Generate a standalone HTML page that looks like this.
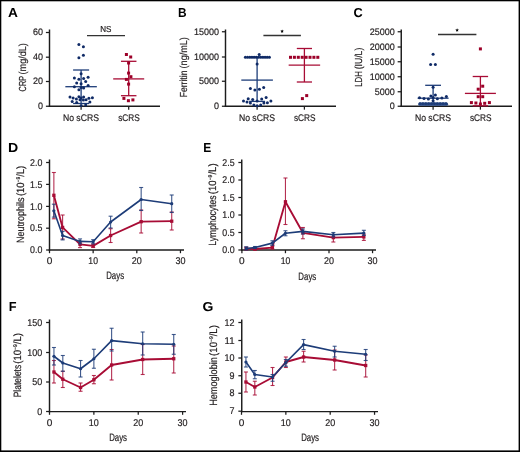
<!DOCTYPE html>
<html><head><meta charset="utf-8"><style>
html,body{margin:0;padding:0;background:#fff;}
svg{display:block;will-change:transform;text-rendering:geometricPrecision;font-family:"Liberation Sans",sans-serif;}
</style></head><body>
<svg width="520" height="452" viewBox="0 0 520 452">
<rect x="0" y="0" width="520" height="452" fill="#fff"/>
<rect x="0" y="0" width="520" height="1.3" fill="#000"/>
<rect x="0" y="0" width="1.3" height="452" fill="#000"/>
<rect x="518.6" y="0" width="1.4" height="452" fill="#000"/>
<rect x="0" y="450.4" width="520" height="1.6" fill="#000"/>
<text x="7.9" y="17.3" font-size="13" fill="#000" text-anchor="start" font-weight="bold" textLength="9.9" lengthAdjust="spacingAndGlyphs">A</text>
<text x="177.9" y="17.4" font-size="13" fill="#000" text-anchor="start" font-weight="bold" textLength="8.6" lengthAdjust="spacingAndGlyphs">B</text>
<text x="353.6" y="17.2" font-size="13" fill="#000" text-anchor="start" font-weight="bold" textLength="9.2" lengthAdjust="spacingAndGlyphs">C</text>
<text x="8.1" y="152" font-size="13" fill="#000" text-anchor="start" font-weight="bold" textLength="10.2" lengthAdjust="spacingAndGlyphs">D</text>
<text x="203.3" y="152" font-size="13" fill="#000" text-anchor="start" font-weight="bold" textLength="8.0" lengthAdjust="spacingAndGlyphs">E</text>
<text x="8.7" y="311.25" font-size="13" fill="#000" text-anchor="start" font-weight="bold" textLength="7.8" lengthAdjust="spacingAndGlyphs">F</text>
<text x="202.5" y="310.9" font-size="13" fill="#000" text-anchor="start" font-weight="bold" textLength="10.9" lengthAdjust="spacingAndGlyphs">G</text>
<line x1="49.5" y1="29.5" x2="49.5" y2="106.95" stroke="#1c1c1c" stroke-width="1.45"/>
<line x1="48.8" y1="106.25" x2="160" y2="106.25" stroke="#1c1c1c" stroke-width="1.45"/>
<line x1="45.9" y1="106.25" x2="49.5" y2="106.25" stroke="#1c1c1c" stroke-width="1.25"/>
<text x="42.9" y="109.0" font-size="9.4" fill="#231f20" text-anchor="end" stroke="#231f20" stroke-width="0.2" textLength="5" lengthAdjust="spacingAndGlyphs">0</text>
<line x1="45.9" y1="81.5" x2="49.5" y2="81.5" stroke="#1c1c1c" stroke-width="1.25"/>
<text x="42.9" y="84.25" font-size="9.4" fill="#231f20" text-anchor="end" stroke="#231f20" stroke-width="0.2" textLength="10" lengthAdjust="spacingAndGlyphs">20</text>
<line x1="45.9" y1="57.2" x2="49.5" y2="57.2" stroke="#1c1c1c" stroke-width="1.25"/>
<text x="42.9" y="59.95" font-size="9.4" fill="#231f20" text-anchor="end" stroke="#231f20" stroke-width="0.2" textLength="10" lengthAdjust="spacingAndGlyphs">40</text>
<line x1="45.9" y1="32.5" x2="49.5" y2="32.5" stroke="#1c1c1c" stroke-width="1.25"/>
<text x="42.9" y="35.25" font-size="9.4" fill="#231f20" text-anchor="end" stroke="#231f20" stroke-width="0.2" textLength="10" lengthAdjust="spacingAndGlyphs">60</text>
<line x1="81.1" y1="106.25" x2="81.1" y2="109.65" stroke="#1c1c1c" stroke-width="1.25"/>
<line x1="128.7" y1="106.25" x2="128.7" y2="109.65" stroke="#1c1c1c" stroke-width="1.25"/>
<text x="80.89999999999999" y="121.0" font-size="9.6" fill="#231f20" text-anchor="middle" stroke="#231f20" stroke-width="0.2" textLength="36" lengthAdjust="spacingAndGlyphs">No sCRS</text>
<text x="129.0" y="121.0" font-size="9.6" fill="#231f20" text-anchor="middle" stroke="#231f20" stroke-width="0.2" textLength="21.6" lengthAdjust="spacingAndGlyphs">sCRS</text>
<text transform="translate(25.9,91.4) rotate(-90)" x="0" y="0" font-size="10.2" fill="#231f20" text-anchor="start" stroke="#231f20" stroke-width="0.2" textLength="15.500000000000004" lengthAdjust="spacingAndGlyphs">CRP</text>
<text transform="translate(25.9,74.4) rotate(-90)" x="0" y="0" font-size="10.2" fill="#231f20" text-anchor="start" stroke="#231f20" stroke-width="0.2" textLength="31.3" lengthAdjust="spacingAndGlyphs">(mg/dL)</text>
<line x1="87" y1="35.7" x2="125" y2="35.7" stroke="#333" stroke-width="1.3"/>
<text x="105.8" y="31.9" font-size="8.6" fill="#231f20" text-anchor="middle" stroke="#231f20" stroke-width="0.2" textLength="11.2" lengthAdjust="spacingAndGlyphs">NS</text>
<line x1="81.1" y1="70" x2="81.1" y2="103.5" stroke="#1d3c78" stroke-width="1.3"/>
<line x1="73.1" y1="70" x2="89.1" y2="70" stroke="#1d3c78" stroke-width="1.3"/>
<line x1="73.1" y1="103.5" x2="89.1" y2="103.5" stroke="#1d3c78" stroke-width="1.3"/>
<line x1="65.35" y1="86.7" x2="96.85" y2="86.7" stroke="#1d3c78" stroke-width="1.3"/>
<circle cx="78.9" cy="44.5" r="1.5" fill="#0f2a66"/>
<circle cx="83.4" cy="46.7" r="1.5" fill="#0f2a66"/>
<circle cx="83.4" cy="55.2" r="1.5" fill="#0f2a66"/>
<circle cx="78.9" cy="57.7" r="1.5" fill="#0f2a66"/>
<circle cx="81.1" cy="73.8" r="1.5" fill="#0f2a66"/>
<circle cx="74.4" cy="78" r="1.5" fill="#0f2a66"/>
<circle cx="78.9" cy="79.2" r="1.5" fill="#0f2a66"/>
<circle cx="83.6" cy="78.5" r="1.5" fill="#0f2a66"/>
<circle cx="88.1" cy="77.2" r="1.5" fill="#0f2a66"/>
<circle cx="76.7" cy="83" r="1.5" fill="#0f2a66"/>
<circle cx="85.7" cy="81.5" r="1.5" fill="#0f2a66"/>
<circle cx="81.1" cy="83.7" r="1.5" fill="#0f2a66"/>
<circle cx="74.4" cy="86.7" r="1.5" fill="#0f2a66"/>
<circle cx="88.1" cy="85.4" r="1.5" fill="#0f2a66"/>
<circle cx="81.1" cy="87.4" r="1.5" fill="#0f2a66"/>
<circle cx="83.6" cy="88.1" r="1.5" fill="#0f2a66"/>
<circle cx="78.9" cy="89.7" r="1.5" fill="#0f2a66"/>
<circle cx="70" cy="96.9" r="1.5" fill="#0f2a66"/>
<circle cx="73.1" cy="97.9" r="1.5" fill="#0f2a66"/>
<circle cx="76.4" cy="98.9" r="1.5" fill="#0f2a66"/>
<circle cx="78.9" cy="96.7" r="1.5" fill="#0f2a66"/>
<circle cx="81.1" cy="97.9" r="1.5" fill="#0f2a66"/>
<circle cx="83.6" cy="96.9" r="1.5" fill="#0f2a66"/>
<circle cx="80" cy="99.7" r="1.5" fill="#0f2a66"/>
<circle cx="83.4" cy="99.9" r="1.5" fill="#0f2a66"/>
<circle cx="86.1" cy="99.7" r="1.5" fill="#0f2a66"/>
<circle cx="88.9" cy="98.2" r="1.5" fill="#0f2a66"/>
<circle cx="92.4" cy="97.7" r="1.5" fill="#0f2a66"/>
<circle cx="72.2" cy="101.4" r="1.5" fill="#0f2a66"/>
<circle cx="76.7" cy="102.4" r="1.5" fill="#0f2a66"/>
<circle cx="89.9" cy="101.9" r="1.5" fill="#0f2a66"/>
<circle cx="81.1" cy="105.4" r="1.5" fill="#0f2a66"/>
<circle cx="85.7" cy="105.1" r="1.5" fill="#0f2a66"/>
<line x1="128.7" y1="61.3" x2="128.7" y2="95.7" stroke="#a80c35" stroke-width="1.3"/>
<line x1="120.94999999999999" y1="61.3" x2="136.45" y2="61.3" stroke="#a80c35" stroke-width="1.3"/>
<line x1="120.94999999999999" y1="95.7" x2="136.45" y2="95.7" stroke="#a80c35" stroke-width="1.3"/>
<line x1="113.19999999999999" y1="78.9" x2="144.2" y2="78.9" stroke="#a80c35" stroke-width="1.3"/>
<rect x="124.90" y="53.00" width="3.0" height="3.0" fill="#9c0028"/>
<rect x="129.20" y="55.50" width="3.0" height="3.0" fill="#9c0028"/>
<rect x="127.10" y="61.50" width="3.0" height="3.0" fill="#9c0028"/>
<rect x="127.10" y="71.60" width="3.0" height="3.0" fill="#9c0028"/>
<rect x="129.40" y="75.20" width="3.0" height="3.0" fill="#9c0028"/>
<rect x="124.90" y="77.90" width="3.0" height="3.0" fill="#9c0028"/>
<rect x="127.10" y="82.60" width="3.0" height="3.0" fill="#9c0028"/>
<rect x="122.40" y="96.90" width="3.0" height="3.0" fill="#9c0028"/>
<rect x="126.90" y="99.20" width="3.0" height="3.0" fill="#9c0028"/>
<rect x="131.40" y="98.40" width="3.0" height="3.0" fill="#9c0028"/>
<line x1="225.5" y1="29.5" x2="225.5" y2="106.95" stroke="#1c1c1c" stroke-width="1.45"/>
<line x1="224.8" y1="106.25" x2="336" y2="106.25" stroke="#1c1c1c" stroke-width="1.45"/>
<line x1="221.9" y1="106.25" x2="225.5" y2="106.25" stroke="#1c1c1c" stroke-width="1.25"/>
<text x="218.9" y="109.0" font-size="9.4" fill="#231f20" text-anchor="end" stroke="#231f20" stroke-width="0.2" textLength="5" lengthAdjust="spacingAndGlyphs">0</text>
<line x1="221.9" y1="81.25" x2="225.5" y2="81.25" stroke="#1c1c1c" stroke-width="1.25"/>
<text x="218.9" y="84.0" font-size="9.4" fill="#231f20" text-anchor="end" stroke="#231f20" stroke-width="0.2" textLength="20" lengthAdjust="spacingAndGlyphs">5000</text>
<line x1="221.9" y1="57" x2="225.5" y2="57" stroke="#1c1c1c" stroke-width="1.25"/>
<text x="218.9" y="59.75" font-size="9.4" fill="#231f20" text-anchor="end" stroke="#231f20" stroke-width="0.2" textLength="25" lengthAdjust="spacingAndGlyphs">10000</text>
<line x1="221.9" y1="31.75" x2="225.5" y2="31.75" stroke="#1c1c1c" stroke-width="1.25"/>
<text x="218.9" y="34.5" font-size="9.4" fill="#231f20" text-anchor="end" stroke="#231f20" stroke-width="0.2" textLength="25" lengthAdjust="spacingAndGlyphs">15000</text>
<line x1="257.1" y1="106.25" x2="257.1" y2="109.65" stroke="#1c1c1c" stroke-width="1.25"/>
<line x1="304.4" y1="106.25" x2="304.4" y2="109.65" stroke="#1c1c1c" stroke-width="1.25"/>
<text x="256.90000000000003" y="121.0" font-size="9.6" fill="#231f20" text-anchor="middle" stroke="#231f20" stroke-width="0.2" textLength="36" lengthAdjust="spacingAndGlyphs">No sCRS</text>
<text x="304.7" y="121.0" font-size="9.6" fill="#231f20" text-anchor="middle" stroke="#231f20" stroke-width="0.2" textLength="21.6" lengthAdjust="spacingAndGlyphs">sCRS</text>
<text transform="translate(186.8,97.2) rotate(-90)" x="0" y="0" font-size="10.2" fill="#231f20" text-anchor="start" stroke="#231f20" stroke-width="0.2" textLength="26.599999999999998" lengthAdjust="spacingAndGlyphs">Ferritin</text>
<text transform="translate(186.8,68.4) rotate(-90)" x="0" y="0" font-size="10.2" fill="#231f20" text-anchor="start" stroke="#231f20" stroke-width="0.2" textLength="31.3" lengthAdjust="spacingAndGlyphs">(ng/mL)</text>
<line x1="263.4" y1="35.5" x2="300.9" y2="35.5" stroke="#333" stroke-width="1.3"/>
<polygon points="282.10,29.40 282.60,30.61 283.91,30.71 282.91,31.56 283.22,32.84 282.10,32.16 280.98,32.84 281.29,31.56 280.29,30.71 281.60,30.61" fill="#000"/>
<line x1="257.1" y1="57.2" x2="257.1" y2="101.4" stroke="#1d3c78" stroke-width="1.3"/>
<line x1="249.10000000000002" y1="57.2" x2="265.1" y2="57.2" stroke="#1d3c78" stroke-width="1.3"/>
<line x1="249.10000000000002" y1="101.4" x2="265.1" y2="101.4" stroke="#1d3c78" stroke-width="1.3"/>
<line x1="241.3" y1="80.1" x2="272.90000000000003" y2="80.1" stroke="#1d3c78" stroke-width="1.3"/>
<circle cx="245.4" cy="57.2" r="1.5" fill="#0f2a66"/>
<circle cx="247.5818181818182" cy="57.2" r="1.5" fill="#0f2a66"/>
<circle cx="249.76363636363638" cy="57.2" r="1.5" fill="#0f2a66"/>
<circle cx="251.94545454545454" cy="57.2" r="1.5" fill="#0f2a66"/>
<circle cx="254.12727272727273" cy="57.2" r="1.5" fill="#0f2a66"/>
<circle cx="256.3090909090909" cy="57.2" r="1.5" fill="#0f2a66"/>
<circle cx="258.4909090909091" cy="57.2" r="1.5" fill="#0f2a66"/>
<circle cx="260.6727272727273" cy="57.2" r="1.5" fill="#0f2a66"/>
<circle cx="262.8545454545455" cy="57.2" r="1.5" fill="#0f2a66"/>
<circle cx="265.03636363636366" cy="57.2" r="1.5" fill="#0f2a66"/>
<circle cx="267.21818181818185" cy="57.2" r="1.5" fill="#0f2a66"/>
<circle cx="269.4" cy="57.2" r="1.5" fill="#0f2a66"/>
<circle cx="259.2" cy="54.5" r="1.5" fill="#0f2a66"/>
<circle cx="257.1" cy="64.1" r="1.5" fill="#0f2a66"/>
<circle cx="250.4" cy="88.5" r="1.5" fill="#0f2a66"/>
<circle cx="254.9" cy="90" r="1.5" fill="#0f2a66"/>
<circle cx="259.4" cy="89.2" r="1.5" fill="#0f2a66"/>
<circle cx="263.7" cy="87.5" r="1.5" fill="#0f2a66"/>
<circle cx="248.2" cy="98.7" r="1.5" fill="#0f2a66"/>
<circle cx="252.7" cy="99.4" r="1.5" fill="#0f2a66"/>
<circle cx="261.7" cy="99.1" r="1.5" fill="#0f2a66"/>
<circle cx="266.1" cy="97.4" r="1.5" fill="#0f2a66"/>
<circle cx="243.5" cy="101.1" r="1.5" fill="#0f2a66"/>
<circle cx="247" cy="101.9" r="1.5" fill="#0f2a66"/>
<circle cx="250.4" cy="103.1" r="1.5" fill="#0f2a66"/>
<circle cx="257.1" cy="101.1" r="1.5" fill="#0f2a66"/>
<circle cx="263.9" cy="103.1" r="1.5" fill="#0f2a66"/>
<circle cx="267.4" cy="102.7" r="1.5" fill="#0f2a66"/>
<circle cx="270.9" cy="101.1" r="1.5" fill="#0f2a66"/>
<circle cx="253.9" cy="104.9" r="1.5" fill="#0f2a66"/>
<circle cx="257.1" cy="105.7" r="1.5" fill="#0f2a66"/>
<circle cx="260.7" cy="104.9" r="1.5" fill="#0f2a66"/>
<line x1="304.4" y1="48.5" x2="304.4" y2="82" stroke="#a80c35" stroke-width="1.3"/>
<line x1="296.79999999999995" y1="48.5" x2="312.0" y2="48.5" stroke="#a80c35" stroke-width="1.3"/>
<line x1="296.79999999999995" y1="82" x2="312.0" y2="82" stroke="#a80c35" stroke-width="1.3"/>
<line x1="288.65" y1="65.2" x2="320.15" y2="65.2" stroke="#a80c35" stroke-width="1.3"/>
<rect x="289.00" y="55.80" width="3.0" height="3.0" fill="#9c0028"/>
<rect x="292.90" y="55.80" width="3.0" height="3.0" fill="#9c0028"/>
<rect x="296.80" y="55.80" width="3.0" height="3.0" fill="#9c0028"/>
<rect x="300.70" y="55.80" width="3.0" height="3.0" fill="#9c0028"/>
<rect x="304.60" y="55.80" width="3.0" height="3.0" fill="#9c0028"/>
<rect x="308.50" y="55.80" width="3.0" height="3.0" fill="#9c0028"/>
<rect x="312.40" y="55.80" width="3.0" height="3.0" fill="#9c0028"/>
<rect x="316.30" y="55.80" width="3.0" height="3.0" fill="#9c0028"/>
<rect x="300.90" y="97.10" width="3.0" height="3.0" fill="#9c0028"/>
<rect x="305.20" y="94.10" width="3.0" height="3.0" fill="#9c0028"/>
<line x1="401.25" y1="29.5" x2="401.25" y2="106.95" stroke="#1c1c1c" stroke-width="1.45"/>
<line x1="400.55" y1="106.25" x2="512" y2="106.25" stroke="#1c1c1c" stroke-width="1.45"/>
<line x1="397.65" y1="106.25" x2="401.25" y2="106.25" stroke="#1c1c1c" stroke-width="1.25"/>
<text x="394.65" y="109.0" font-size="9.4" fill="#231f20" text-anchor="end" stroke="#231f20" stroke-width="0.2" textLength="5" lengthAdjust="spacingAndGlyphs">0</text>
<line x1="397.65" y1="91.75" x2="401.25" y2="91.75" stroke="#1c1c1c" stroke-width="1.25"/>
<text x="394.65" y="94.5" font-size="9.4" fill="#231f20" text-anchor="end" stroke="#231f20" stroke-width="0.2" textLength="20" lengthAdjust="spacingAndGlyphs">5000</text>
<line x1="397.65" y1="76.75" x2="401.25" y2="76.75" stroke="#1c1c1c" stroke-width="1.25"/>
<text x="394.65" y="79.5" font-size="9.4" fill="#231f20" text-anchor="end" stroke="#231f20" stroke-width="0.2" textLength="25" lengthAdjust="spacingAndGlyphs">10000</text>
<line x1="397.65" y1="61.75" x2="401.25" y2="61.75" stroke="#1c1c1c" stroke-width="1.25"/>
<text x="394.65" y="64.5" font-size="9.4" fill="#231f20" text-anchor="end" stroke="#231f20" stroke-width="0.2" textLength="25" lengthAdjust="spacingAndGlyphs">15000</text>
<line x1="397.65" y1="47" x2="401.25" y2="47" stroke="#1c1c1c" stroke-width="1.25"/>
<text x="394.65" y="49.75" font-size="9.4" fill="#231f20" text-anchor="end" stroke="#231f20" stroke-width="0.2" textLength="25" lengthAdjust="spacingAndGlyphs">20000</text>
<line x1="397.65" y1="31.75" x2="401.25" y2="31.75" stroke="#1c1c1c" stroke-width="1.25"/>
<text x="394.65" y="34.5" font-size="9.4" fill="#231f20" text-anchor="end" stroke="#231f20" stroke-width="0.2" textLength="25" lengthAdjust="spacingAndGlyphs">25000</text>
<line x1="433.1" y1="106.25" x2="433.1" y2="109.65" stroke="#1c1c1c" stroke-width="1.25"/>
<line x1="480.4" y1="106.25" x2="480.4" y2="109.65" stroke="#1c1c1c" stroke-width="1.25"/>
<text x="432.90000000000003" y="121.0" font-size="9.6" fill="#231f20" text-anchor="middle" stroke="#231f20" stroke-width="0.2" textLength="36" lengthAdjust="spacingAndGlyphs">No sCRS</text>
<text x="480.7" y="121.0" font-size="9.6" fill="#231f20" text-anchor="middle" stroke="#231f20" stroke-width="0.2" textLength="21.6" lengthAdjust="spacingAndGlyphs">sCRS</text>
<text transform="translate(362.1,86.7) rotate(-90)" x="0" y="0" font-size="10.2" fill="#231f20" text-anchor="start" stroke="#231f20" stroke-width="0.2" textLength="15.500000000000004" lengthAdjust="spacingAndGlyphs">LDH</text>
<text transform="translate(362.1,69.30000000000001) rotate(-90)" x="0" y="0" font-size="10.2" fill="#231f20" text-anchor="start" stroke="#231f20" stroke-width="0.2" textLength="21.600000000000005" lengthAdjust="spacingAndGlyphs">(IU/L)</text>
<line x1="438" y1="34.5" x2="476.4" y2="34.5" stroke="#333" stroke-width="1.3"/>
<polygon points="457.10,28.30 457.60,29.51 458.91,29.61 457.91,30.46 458.22,31.74 457.10,31.05 455.98,31.74 456.29,30.46 455.29,29.61 456.60,29.51" fill="#000"/>
<line x1="433.1" y1="85.3" x2="433.1" y2="104.5" stroke="#1d3c78" stroke-width="1.3"/>
<line x1="425.20000000000005" y1="85.3" x2="441.0" y2="85.3" stroke="#1d3c78" stroke-width="1.3"/>
<line x1="425.20000000000005" y1="104.5" x2="441.0" y2="104.5" stroke="#1d3c78" stroke-width="1.3"/>
<line x1="417.6" y1="98.2" x2="448.6" y2="98.2" stroke="#1d3c78" stroke-width="1.3"/>
<circle cx="433.1" cy="54.2" r="1.5" fill="#0f2a66"/>
<circle cx="430.6" cy="64.4" r="1.5" fill="#0f2a66"/>
<circle cx="435.4" cy="64.4" r="1.5" fill="#0f2a66"/>
<circle cx="433.1" cy="87.2" r="1.5" fill="#0f2a66"/>
<circle cx="419.5" cy="97.7" r="1.5" fill="#0f2a66"/>
<circle cx="424" cy="98.4" r="1.5" fill="#0f2a66"/>
<circle cx="428.4" cy="98.9" r="1.5" fill="#0f2a66"/>
<circle cx="430.9" cy="95.9" r="1.5" fill="#0f2a66"/>
<circle cx="435.4" cy="94.9" r="1.5" fill="#0f2a66"/>
<circle cx="433.1" cy="97.4" r="1.5" fill="#0f2a66"/>
<circle cx="437.4" cy="98.7" r="1.5" fill="#0f2a66"/>
<circle cx="441.9" cy="97.9" r="1.5" fill="#0f2a66"/>
<circle cx="446.4" cy="96.4" r="1.5" fill="#0f2a66"/>
<circle cx="433.1" cy="100.7" r="1.5" fill="#0f2a66"/>
<rect x="418.3" y="102.6" width="29.8" height="3.2" rx="1.6" fill="#2a4a86"/>
<circle cx="420.0" cy="103.6" r="1.4" fill="#1d3c78"/>
<circle cx="422.8888888888889" cy="103.6" r="1.4" fill="#1d3c78"/>
<circle cx="425.77777777777777" cy="103.6" r="1.4" fill="#1d3c78"/>
<circle cx="428.6666666666667" cy="103.6" r="1.4" fill="#1d3c78"/>
<circle cx="431.55555555555554" cy="103.6" r="1.4" fill="#1d3c78"/>
<circle cx="434.44444444444446" cy="103.6" r="1.4" fill="#1d3c78"/>
<circle cx="437.3333333333333" cy="103.6" r="1.4" fill="#1d3c78"/>
<circle cx="440.22222222222223" cy="103.6" r="1.4" fill="#1d3c78"/>
<circle cx="443.1111111111111" cy="103.6" r="1.4" fill="#1d3c78"/>
<circle cx="446.0" cy="103.6" r="1.4" fill="#1d3c78"/>
<line x1="480.4" y1="76.5" x2="480.4" y2="105.8" stroke="#a80c35" stroke-width="1.3"/>
<line x1="472.7" y1="76.5" x2="488.09999999999997" y2="76.5" stroke="#a80c35" stroke-width="1.3"/>
<line x1="472.7" y1="105.8" x2="488.09999999999997" y2="105.8" stroke="#a80c35" stroke-width="1.3"/>
<line x1="464.9" y1="93.4" x2="495.9" y2="93.4" stroke="#a80c35" stroke-width="1.3"/>
<rect x="478.90" y="47.40" width="3.0" height="3.0" fill="#9c0028"/>
<rect x="481.20" y="84.70" width="3.0" height="3.0" fill="#9c0028"/>
<rect x="476.70" y="87.70" width="3.0" height="3.0" fill="#9c0028"/>
<rect x="476.70" y="95.20" width="3.0" height="3.0" fill="#9c0028"/>
<rect x="481.20" y="95.20" width="3.0" height="3.0" fill="#9c0028"/>
<rect x="469.90" y="101.10" width="3.0" height="3.0" fill="#9c0028"/>
<rect x="474.40" y="101.50" width="3.0" height="3.0" fill="#9c0028"/>
<rect x="478.90" y="102.50" width="3.0" height="3.0" fill="#9c0028"/>
<rect x="483.20" y="101.80" width="3.0" height="3.0" fill="#9c0028"/>
<rect x="487.90" y="101.10" width="3.0" height="3.0" fill="#9c0028"/>
<line x1="49.5" y1="159.5" x2="49.5" y2="250.7" stroke="#1c1c1c" stroke-width="1.45"/>
<line x1="48.8" y1="250" x2="184" y2="250" stroke="#1c1c1c" stroke-width="1.45"/>
<line x1="46.1" y1="250" x2="49.5" y2="250" stroke="#1c1c1c" stroke-width="1.25"/>
<text x="42.3" y="253.2" font-size="9.8" fill="#231f20" text-anchor="end" stroke="#231f20" stroke-width="0.2" textLength="12.3" lengthAdjust="spacingAndGlyphs">0.0</text>
<line x1="46.1" y1="228.2" x2="49.5" y2="228.2" stroke="#1c1c1c" stroke-width="1.25"/>
<text x="42.3" y="231.39999999999998" font-size="9.8" fill="#231f20" text-anchor="end" stroke="#231f20" stroke-width="0.2" textLength="12.3" lengthAdjust="spacingAndGlyphs">0.5</text>
<line x1="46.1" y1="206.4" x2="49.5" y2="206.4" stroke="#1c1c1c" stroke-width="1.25"/>
<text x="42.3" y="209.6" font-size="9.8" fill="#231f20" text-anchor="end" stroke="#231f20" stroke-width="0.2" textLength="12.3" lengthAdjust="spacingAndGlyphs">1.0</text>
<line x1="46.1" y1="184.4" x2="49.5" y2="184.4" stroke="#1c1c1c" stroke-width="1.25"/>
<text x="42.3" y="187.6" font-size="9.8" fill="#231f20" text-anchor="end" stroke="#231f20" stroke-width="0.2" textLength="12.3" lengthAdjust="spacingAndGlyphs">1.5</text>
<line x1="46.1" y1="162.5" x2="49.5" y2="162.5" stroke="#1c1c1c" stroke-width="1.25"/>
<text x="42.3" y="165.7" font-size="9.8" fill="#231f20" text-anchor="end" stroke="#231f20" stroke-width="0.2" textLength="12.3" lengthAdjust="spacingAndGlyphs">2.0</text>
<line x1="49.5" y1="250" x2="49.5" y2="253.2" stroke="#1c1c1c" stroke-width="1.25"/>
<text x="49.5" y="264.2" font-size="9.8" fill="#231f20" text-anchor="middle" stroke="#231f20" stroke-width="0.2" textLength="5.6" lengthAdjust="spacingAndGlyphs">0</text>
<line x1="93.15" y1="250" x2="93.15" y2="253.2" stroke="#1c1c1c" stroke-width="1.25"/>
<text x="93.15" y="264.2" font-size="9.8" fill="#231f20" text-anchor="middle" stroke="#231f20" stroke-width="0.2" textLength="9.6" lengthAdjust="spacingAndGlyphs">10</text>
<line x1="136.8" y1="250" x2="136.8" y2="253.2" stroke="#1c1c1c" stroke-width="1.25"/>
<text x="136.8" y="264.2" font-size="9.8" fill="#231f20" text-anchor="middle" stroke="#231f20" stroke-width="0.2" textLength="10" lengthAdjust="spacingAndGlyphs">20</text>
<line x1="180.45000000000002" y1="250" x2="180.45000000000002" y2="253.2" stroke="#1c1c1c" stroke-width="1.25"/>
<text x="180.45000000000002" y="264.2" font-size="9.8" fill="#231f20" text-anchor="middle" stroke="#231f20" stroke-width="0.2" textLength="10" lengthAdjust="spacingAndGlyphs">30</text>
<text x="115.15" y="279.4" font-size="10.6" fill="#231f20" text-anchor="middle" stroke="#231f20" stroke-width="0.2" textLength="17.9" lengthAdjust="spacingAndGlyphs">Days</text>
<text transform="translate(23.5,243.0) rotate(-90)" x="0" y="0" font-size="10.6" fill="#231f20" text-anchor="start" stroke="#231f20" stroke-width="0.2" textLength="45.39999999999999" lengthAdjust="spacingAndGlyphs">Neutrophils</text>
<text transform="translate(23.5,196.1) rotate(-90)" x="0" y="0" font-size="10.6" fill="#231f20" text-anchor="start" stroke="#231f20" stroke-width="0.2" textLength="30.3" lengthAdjust="spacingAndGlyphs">(10<tspan font-size="5.5" dy="-4">−9</tspan><tspan dy="4">/L)</tspan></text>
<line x1="53.865" y1="172.5" x2="53.865" y2="218.8" stroke="#a80c35" stroke-width="1.1" stroke-opacity="0.85"/>
<line x1="51.865" y1="172.5" x2="55.865" y2="172.5" stroke="#a80c35" stroke-width="1.1" stroke-opacity="0.85"/>
<line x1="51.865" y1="218.8" x2="55.865" y2="218.8" stroke="#a80c35" stroke-width="1.1" stroke-opacity="0.85"/>
<line x1="62.595" y1="215" x2="62.595" y2="239" stroke="#a80c35" stroke-width="1.1" stroke-opacity="0.85"/>
<line x1="60.595" y1="215" x2="64.595" y2="215" stroke="#a80c35" stroke-width="1.1" stroke-opacity="0.85"/>
<line x1="60.595" y1="239" x2="64.595" y2="239" stroke="#a80c35" stroke-width="1.1" stroke-opacity="0.85"/>
<line x1="80.055" y1="242.2" x2="80.055" y2="247.6" stroke="#a80c35" stroke-width="1.1" stroke-opacity="0.85"/>
<line x1="78.055" y1="242.2" x2="82.055" y2="242.2" stroke="#a80c35" stroke-width="1.1" stroke-opacity="0.85"/>
<line x1="78.055" y1="247.6" x2="82.055" y2="247.6" stroke="#a80c35" stroke-width="1.1" stroke-opacity="0.85"/>
<line x1="93.15" y1="244" x2="93.15" y2="247.5" stroke="#a80c35" stroke-width="1.1" stroke-opacity="0.85"/>
<line x1="91.15" y1="244" x2="95.15" y2="244" stroke="#a80c35" stroke-width="1.1" stroke-opacity="0.85"/>
<line x1="91.15" y1="247.5" x2="95.15" y2="247.5" stroke="#a80c35" stroke-width="1.1" stroke-opacity="0.85"/>
<line x1="110.61" y1="228.7" x2="110.61" y2="242.5" stroke="#a80c35" stroke-width="1.1" stroke-opacity="0.85"/>
<line x1="108.61" y1="228.7" x2="112.61" y2="228.7" stroke="#a80c35" stroke-width="1.1" stroke-opacity="0.85"/>
<line x1="108.61" y1="242.5" x2="112.61" y2="242.5" stroke="#a80c35" stroke-width="1.1" stroke-opacity="0.85"/>
<line x1="141.16500000000002" y1="210" x2="141.16500000000002" y2="233" stroke="#a80c35" stroke-width="1.1" stroke-opacity="0.85"/>
<line x1="139.16500000000002" y1="210" x2="143.16500000000002" y2="210" stroke="#a80c35" stroke-width="1.1" stroke-opacity="0.85"/>
<line x1="139.16500000000002" y1="233" x2="143.16500000000002" y2="233" stroke="#a80c35" stroke-width="1.1" stroke-opacity="0.85"/>
<line x1="171.72" y1="212" x2="171.72" y2="230" stroke="#a80c35" stroke-width="1.1" stroke-opacity="0.85"/>
<line x1="169.72" y1="212" x2="173.72" y2="212" stroke="#a80c35" stroke-width="1.1" stroke-opacity="0.85"/>
<line x1="169.72" y1="230" x2="173.72" y2="230" stroke="#a80c35" stroke-width="1.1" stroke-opacity="0.85"/>
<path d="M53.87,195.3 L62.59,227.4 L80.06,244.4 L93.15,245.9 L110.61,235.5 L141.17,221.7 L171.72,221.2" fill="none" stroke="#a80c35" stroke-width="1.85" stroke-linejoin="round"/>
<rect x="52.22" y="193.65" width="3.3" height="3.3" fill="#a80c35"/>
<rect x="60.95" y="225.75" width="3.3" height="3.3" fill="#a80c35"/>
<rect x="78.41" y="242.75" width="3.3" height="3.3" fill="#a80c35"/>
<rect x="91.50" y="244.25" width="3.3" height="3.3" fill="#a80c35"/>
<rect x="108.96" y="233.85" width="3.3" height="3.3" fill="#a80c35"/>
<rect x="139.52" y="220.05" width="3.3" height="3.3" fill="#a80c35"/>
<rect x="170.07" y="219.55" width="3.3" height="3.3" fill="#a80c35"/>
<line x1="53.865" y1="204.2" x2="53.865" y2="217.1" stroke="#1d3c78" stroke-width="1.1" stroke-opacity="0.85"/>
<line x1="51.865" y1="204.2" x2="55.865" y2="204.2" stroke="#1d3c78" stroke-width="1.1" stroke-opacity="0.85"/>
<line x1="51.865" y1="217.1" x2="55.865" y2="217.1" stroke="#1d3c78" stroke-width="1.1" stroke-opacity="0.85"/>
<line x1="62.595" y1="231.4" x2="62.595" y2="239.9" stroke="#1d3c78" stroke-width="1.1" stroke-opacity="0.85"/>
<line x1="60.595" y1="231.4" x2="64.595" y2="231.4" stroke="#1d3c78" stroke-width="1.1" stroke-opacity="0.85"/>
<line x1="60.595" y1="239.9" x2="64.595" y2="239.9" stroke="#1d3c78" stroke-width="1.1" stroke-opacity="0.85"/>
<line x1="80.055" y1="238.9" x2="80.055" y2="243.9" stroke="#1d3c78" stroke-width="1.1" stroke-opacity="0.85"/>
<line x1="78.055" y1="238.9" x2="82.055" y2="238.9" stroke="#1d3c78" stroke-width="1.1" stroke-opacity="0.85"/>
<line x1="78.055" y1="243.9" x2="82.055" y2="243.9" stroke="#1d3c78" stroke-width="1.1" stroke-opacity="0.85"/>
<line x1="93.15" y1="239.7" x2="93.15" y2="243.9" stroke="#1d3c78" stroke-width="1.1" stroke-opacity="0.85"/>
<line x1="91.15" y1="239.7" x2="95.15" y2="239.7" stroke="#1d3c78" stroke-width="1.1" stroke-opacity="0.85"/>
<line x1="91.15" y1="243.9" x2="95.15" y2="243.9" stroke="#1d3c78" stroke-width="1.1" stroke-opacity="0.85"/>
<line x1="110.61" y1="216.2" x2="110.61" y2="228" stroke="#1d3c78" stroke-width="1.1" stroke-opacity="0.85"/>
<line x1="108.61" y1="216.2" x2="112.61" y2="216.2" stroke="#1d3c78" stroke-width="1.1" stroke-opacity="0.85"/>
<line x1="108.61" y1="228" x2="112.61" y2="228" stroke="#1d3c78" stroke-width="1.1" stroke-opacity="0.85"/>
<line x1="141.16500000000002" y1="187.5" x2="141.16500000000002" y2="210.5" stroke="#1d3c78" stroke-width="1.1" stroke-opacity="0.85"/>
<line x1="139.16500000000002" y1="187.5" x2="143.16500000000002" y2="187.5" stroke="#1d3c78" stroke-width="1.1" stroke-opacity="0.85"/>
<line x1="139.16500000000002" y1="210.5" x2="143.16500000000002" y2="210.5" stroke="#1d3c78" stroke-width="1.1" stroke-opacity="0.85"/>
<line x1="171.72" y1="195" x2="171.72" y2="212.5" stroke="#1d3c78" stroke-width="1.1" stroke-opacity="0.85"/>
<line x1="169.72" y1="195" x2="173.72" y2="195" stroke="#1d3c78" stroke-width="1.1" stroke-opacity="0.85"/>
<line x1="169.72" y1="212.5" x2="173.72" y2="212.5" stroke="#1d3c78" stroke-width="1.1" stroke-opacity="0.85"/>
<path d="M53.87,210.8 L62.59,235.6 L80.06,241.4 L93.15,241.7 L110.61,222 L141.17,199.5 L171.72,203.7" fill="none" stroke="#1d3c78" stroke-width="1.6" stroke-linejoin="round"/>
<circle cx="53.865" cy="210.8" r="1.6" fill="#1d3c78"/>
<circle cx="62.595" cy="235.6" r="1.6" fill="#1d3c78"/>
<circle cx="80.055" cy="241.4" r="1.6" fill="#1d3c78"/>
<circle cx="93.15" cy="241.7" r="1.6" fill="#1d3c78"/>
<circle cx="110.61" cy="222" r="1.6" fill="#1d3c78"/>
<circle cx="141.16500000000002" cy="199.5" r="1.6" fill="#1d3c78"/>
<circle cx="171.72" cy="203.7" r="1.6" fill="#1d3c78"/>
<line x1="241.75" y1="159.5" x2="241.75" y2="250.7" stroke="#1c1c1c" stroke-width="1.45"/>
<line x1="241.05" y1="250" x2="376" y2="250" stroke="#1c1c1c" stroke-width="1.45"/>
<line x1="238.35" y1="250" x2="241.75" y2="250" stroke="#1c1c1c" stroke-width="1.25"/>
<text x="234.55" y="253.2" font-size="9.8" fill="#231f20" text-anchor="end" stroke="#231f20" stroke-width="0.2" textLength="12.3" lengthAdjust="spacingAndGlyphs">0.0</text>
<line x1="238.35" y1="232.5" x2="241.75" y2="232.5" stroke="#1c1c1c" stroke-width="1.25"/>
<text x="234.55" y="235.7" font-size="9.8" fill="#231f20" text-anchor="end" stroke="#231f20" stroke-width="0.2" textLength="12.3" lengthAdjust="spacingAndGlyphs">0.5</text>
<line x1="238.35" y1="215" x2="241.75" y2="215" stroke="#1c1c1c" stroke-width="1.25"/>
<text x="234.55" y="218.2" font-size="9.8" fill="#231f20" text-anchor="end" stroke="#231f20" stroke-width="0.2" textLength="12.3" lengthAdjust="spacingAndGlyphs">1.0</text>
<line x1="238.35" y1="197.5" x2="241.75" y2="197.5" stroke="#1c1c1c" stroke-width="1.25"/>
<text x="234.55" y="200.7" font-size="9.8" fill="#231f20" text-anchor="end" stroke="#231f20" stroke-width="0.2" textLength="12.3" lengthAdjust="spacingAndGlyphs">1.5</text>
<line x1="238.35" y1="180" x2="241.75" y2="180" stroke="#1c1c1c" stroke-width="1.25"/>
<text x="234.55" y="183.2" font-size="9.8" fill="#231f20" text-anchor="end" stroke="#231f20" stroke-width="0.2" textLength="12.3" lengthAdjust="spacingAndGlyphs">2.0</text>
<line x1="238.35" y1="162.5" x2="241.75" y2="162.5" stroke="#1c1c1c" stroke-width="1.25"/>
<text x="234.55" y="165.7" font-size="9.8" fill="#231f20" text-anchor="end" stroke="#231f20" stroke-width="0.2" textLength="12.3" lengthAdjust="spacingAndGlyphs">2.5</text>
<line x1="241.9" y1="250" x2="241.9" y2="253.2" stroke="#1c1c1c" stroke-width="1.25"/>
<text x="241.9" y="264.2" font-size="9.8" fill="#231f20" text-anchor="middle" stroke="#231f20" stroke-width="0.2" textLength="5.6" lengthAdjust="spacingAndGlyphs">0</text>
<line x1="285.45" y1="250" x2="285.45" y2="253.2" stroke="#1c1c1c" stroke-width="1.25"/>
<text x="285.45" y="264.2" font-size="9.8" fill="#231f20" text-anchor="middle" stroke="#231f20" stroke-width="0.2" textLength="9.6" lengthAdjust="spacingAndGlyphs">10</text>
<line x1="329.0" y1="250" x2="329.0" y2="253.2" stroke="#1c1c1c" stroke-width="1.25"/>
<text x="329.0" y="264.2" font-size="9.8" fill="#231f20" text-anchor="middle" stroke="#231f20" stroke-width="0.2" textLength="10" lengthAdjust="spacingAndGlyphs">20</text>
<line x1="372.55" y1="250" x2="372.55" y2="253.2" stroke="#1c1c1c" stroke-width="1.25"/>
<text x="372.55" y="264.2" font-size="9.8" fill="#231f20" text-anchor="middle" stroke="#231f20" stroke-width="0.2" textLength="10" lengthAdjust="spacingAndGlyphs">30</text>
<text x="307.3" y="279.5" font-size="10.6" fill="#231f20" text-anchor="middle" stroke="#231f20" stroke-width="0.2" textLength="17.9" lengthAdjust="spacingAndGlyphs">Days</text>
<text transform="translate(216,245.8) rotate(-90)" x="0" y="0" font-size="10.6" fill="#231f20" text-anchor="start" stroke="#231f20" stroke-width="0.2" textLength="50.39999999999999" lengthAdjust="spacingAndGlyphs">Lymphocytes</text>
<text transform="translate(216,194.20000000000002) rotate(-90)" x="0" y="0" font-size="10.6" fill="#231f20" text-anchor="start" stroke="#231f20" stroke-width="0.2" textLength="30.8" lengthAdjust="spacingAndGlyphs">(10<tspan font-size="5.5" dy="-4">−9</tspan><tspan dy="4">/L)</tspan></text>
<line x1="246.255" y1="247.2" x2="246.255" y2="250" stroke="#a80c35" stroke-width="1.1" stroke-opacity="0.85"/>
<line x1="244.255" y1="247.2" x2="248.255" y2="247.2" stroke="#a80c35" stroke-width="1.1" stroke-opacity="0.85"/>
<line x1="244.255" y1="250" x2="248.255" y2="250" stroke="#a80c35" stroke-width="1.1" stroke-opacity="0.85"/>
<line x1="254.965" y1="248" x2="254.965" y2="250" stroke="#a80c35" stroke-width="1.1" stroke-opacity="0.85"/>
<line x1="252.965" y1="248" x2="256.96500000000003" y2="248" stroke="#a80c35" stroke-width="1.1" stroke-opacity="0.85"/>
<line x1="252.965" y1="250" x2="256.96500000000003" y2="250" stroke="#a80c35" stroke-width="1.1" stroke-opacity="0.85"/>
<line x1="272.385" y1="246" x2="272.385" y2="249" stroke="#a80c35" stroke-width="1.1" stroke-opacity="0.85"/>
<line x1="270.385" y1="246" x2="274.385" y2="246" stroke="#a80c35" stroke-width="1.1" stroke-opacity="0.85"/>
<line x1="270.385" y1="249" x2="274.385" y2="249" stroke="#a80c35" stroke-width="1.1" stroke-opacity="0.85"/>
<line x1="285.45" y1="178" x2="285.45" y2="224.5" stroke="#a80c35" stroke-width="1.1" stroke-opacity="0.85"/>
<line x1="283.45" y1="178" x2="287.45" y2="178" stroke="#a80c35" stroke-width="1.1" stroke-opacity="0.85"/>
<line x1="283.45" y1="224.5" x2="287.45" y2="224.5" stroke="#a80c35" stroke-width="1.1" stroke-opacity="0.85"/>
<line x1="302.87" y1="227.5" x2="302.87" y2="238.75" stroke="#a80c35" stroke-width="1.1" stroke-opacity="0.85"/>
<line x1="300.87" y1="227.5" x2="304.87" y2="227.5" stroke="#a80c35" stroke-width="1.1" stroke-opacity="0.85"/>
<line x1="300.87" y1="238.75" x2="304.87" y2="238.75" stroke="#a80c35" stroke-width="1.1" stroke-opacity="0.85"/>
<line x1="333.355" y1="234.5" x2="333.355" y2="242" stroke="#a80c35" stroke-width="1.1" stroke-opacity="0.85"/>
<line x1="331.355" y1="234.5" x2="335.355" y2="234.5" stroke="#a80c35" stroke-width="1.1" stroke-opacity="0.85"/>
<line x1="331.355" y1="242" x2="335.355" y2="242" stroke="#a80c35" stroke-width="1.1" stroke-opacity="0.85"/>
<line x1="363.84000000000003" y1="234.2" x2="363.84000000000003" y2="240.4" stroke="#a80c35" stroke-width="1.1" stroke-opacity="0.85"/>
<line x1="361.84000000000003" y1="234.2" x2="365.84000000000003" y2="234.2" stroke="#a80c35" stroke-width="1.1" stroke-opacity="0.85"/>
<line x1="361.84000000000003" y1="240.4" x2="365.84000000000003" y2="240.4" stroke="#a80c35" stroke-width="1.1" stroke-opacity="0.85"/>
<path d="M246.25,248.6 L254.97,249 L272.38,247.6 L285.45,201.75 L302.87,232.8 L333.36,237.6 L363.84,236.9" fill="none" stroke="#a80c35" stroke-width="1.85" stroke-linejoin="round"/>
<rect x="244.60" y="246.95" width="3.3" height="3.3" fill="#a80c35"/>
<rect x="253.31" y="247.35" width="3.3" height="3.3" fill="#a80c35"/>
<rect x="270.74" y="245.95" width="3.3" height="3.3" fill="#a80c35"/>
<rect x="283.80" y="200.10" width="3.3" height="3.3" fill="#a80c35"/>
<rect x="301.22" y="231.15" width="3.3" height="3.3" fill="#a80c35"/>
<rect x="331.71" y="235.95" width="3.3" height="3.3" fill="#a80c35"/>
<rect x="362.19" y="235.25" width="3.3" height="3.3" fill="#a80c35"/>
<line x1="246.255" y1="246.8" x2="246.255" y2="250" stroke="#1d3c78" stroke-width="1.1" stroke-opacity="0.85"/>
<line x1="244.255" y1="246.8" x2="248.255" y2="246.8" stroke="#1d3c78" stroke-width="1.1" stroke-opacity="0.85"/>
<line x1="244.255" y1="250" x2="248.255" y2="250" stroke="#1d3c78" stroke-width="1.1" stroke-opacity="0.85"/>
<line x1="254.965" y1="246.5" x2="254.965" y2="248.5" stroke="#1d3c78" stroke-width="1.1" stroke-opacity="0.85"/>
<line x1="252.965" y1="246.5" x2="256.96500000000003" y2="246.5" stroke="#1d3c78" stroke-width="1.1" stroke-opacity="0.85"/>
<line x1="252.965" y1="248.5" x2="256.96500000000003" y2="248.5" stroke="#1d3c78" stroke-width="1.1" stroke-opacity="0.85"/>
<line x1="272.385" y1="240.8" x2="272.385" y2="245.3" stroke="#1d3c78" stroke-width="1.1" stroke-opacity="0.85"/>
<line x1="270.385" y1="240.8" x2="274.385" y2="240.8" stroke="#1d3c78" stroke-width="1.1" stroke-opacity="0.85"/>
<line x1="270.385" y1="245.3" x2="274.385" y2="245.3" stroke="#1d3c78" stroke-width="1.1" stroke-opacity="0.85"/>
<line x1="285.45" y1="230.75" x2="285.45" y2="235.75" stroke="#1d3c78" stroke-width="1.1" stroke-opacity="0.85"/>
<line x1="283.45" y1="230.75" x2="287.45" y2="230.75" stroke="#1d3c78" stroke-width="1.1" stroke-opacity="0.85"/>
<line x1="283.45" y1="235.75" x2="287.45" y2="235.75" stroke="#1d3c78" stroke-width="1.1" stroke-opacity="0.85"/>
<line x1="302.87" y1="229" x2="302.87" y2="234" stroke="#1d3c78" stroke-width="1.1" stroke-opacity="0.85"/>
<line x1="300.87" y1="229" x2="304.87" y2="229" stroke="#1d3c78" stroke-width="1.1" stroke-opacity="0.85"/>
<line x1="300.87" y1="234" x2="304.87" y2="234" stroke="#1d3c78" stroke-width="1.1" stroke-opacity="0.85"/>
<line x1="333.355" y1="232.5" x2="333.355" y2="237" stroke="#1d3c78" stroke-width="1.1" stroke-opacity="0.85"/>
<line x1="331.355" y1="232.5" x2="335.355" y2="232.5" stroke="#1d3c78" stroke-width="1.1" stroke-opacity="0.85"/>
<line x1="331.355" y1="237" x2="335.355" y2="237" stroke="#1d3c78" stroke-width="1.1" stroke-opacity="0.85"/>
<line x1="363.84000000000003" y1="230.3" x2="363.84000000000003" y2="235.4" stroke="#1d3c78" stroke-width="1.1" stroke-opacity="0.85"/>
<line x1="361.84000000000003" y1="230.3" x2="365.84000000000003" y2="230.3" stroke="#1d3c78" stroke-width="1.1" stroke-opacity="0.85"/>
<line x1="361.84000000000003" y1="235.4" x2="365.84000000000003" y2="235.4" stroke="#1d3c78" stroke-width="1.1" stroke-opacity="0.85"/>
<path d="M246.25,248.5 L254.97,247.5 L272.38,243.1 L285.45,233.25 L302.87,231.4 L333.36,234.7 L363.84,233.1" fill="none" stroke="#1d3c78" stroke-width="1.6" stroke-linejoin="round"/>
<circle cx="246.255" cy="248.5" r="1.6" fill="#1d3c78"/>
<circle cx="254.965" cy="247.5" r="1.6" fill="#1d3c78"/>
<circle cx="272.385" cy="243.1" r="1.6" fill="#1d3c78"/>
<circle cx="285.45" cy="233.25" r="1.6" fill="#1d3c78"/>
<circle cx="302.87" cy="231.4" r="1.6" fill="#1d3c78"/>
<circle cx="333.355" cy="234.7" r="1.6" fill="#1d3c78"/>
<circle cx="363.84000000000003" cy="233.1" r="1.6" fill="#1d3c78"/>
<line x1="49.5" y1="319.5" x2="49.5" y2="412.3" stroke="#1c1c1c" stroke-width="1.45"/>
<line x1="48.8" y1="411.6" x2="186" y2="411.6" stroke="#1c1c1c" stroke-width="1.45"/>
<line x1="46.1" y1="411.5" x2="49.5" y2="411.5" stroke="#1c1c1c" stroke-width="1.25"/>
<text x="42.3" y="414.7" font-size="9.8" fill="#231f20" text-anchor="end" stroke="#231f20" stroke-width="0.2" textLength="5" lengthAdjust="spacingAndGlyphs">0</text>
<line x1="46.1" y1="382" x2="49.5" y2="382" stroke="#1c1c1c" stroke-width="1.25"/>
<text x="42.3" y="385.2" font-size="9.8" fill="#231f20" text-anchor="end" stroke="#231f20" stroke-width="0.2" textLength="10" lengthAdjust="spacingAndGlyphs">50</text>
<line x1="46.1" y1="352.5" x2="49.5" y2="352.5" stroke="#1c1c1c" stroke-width="1.25"/>
<text x="42.3" y="355.7" font-size="9.8" fill="#231f20" text-anchor="end" stroke="#231f20" stroke-width="0.2" textLength="15" lengthAdjust="spacingAndGlyphs">100</text>
<line x1="46.1" y1="322.5" x2="49.5" y2="322.5" stroke="#1c1c1c" stroke-width="1.25"/>
<text x="42.3" y="325.7" font-size="9.8" fill="#231f20" text-anchor="end" stroke="#231f20" stroke-width="0.2" textLength="15" lengthAdjust="spacingAndGlyphs">150</text>
<line x1="49.5" y1="411.6" x2="49.5" y2="414.8" stroke="#1c1c1c" stroke-width="1.25"/>
<text x="49.5" y="426.3" font-size="9.8" fill="#231f20" text-anchor="middle" stroke="#231f20" stroke-width="0.2" textLength="5.6" lengthAdjust="spacingAndGlyphs">0</text>
<line x1="93.87" y1="411.6" x2="93.87" y2="414.8" stroke="#1c1c1c" stroke-width="1.25"/>
<text x="93.87" y="426.3" font-size="9.8" fill="#231f20" text-anchor="middle" stroke="#231f20" stroke-width="0.2" textLength="10" lengthAdjust="spacingAndGlyphs">10</text>
<line x1="138.24" y1="411.6" x2="138.24" y2="414.8" stroke="#1c1c1c" stroke-width="1.25"/>
<text x="138.24" y="426.3" font-size="9.8" fill="#231f20" text-anchor="middle" stroke="#231f20" stroke-width="0.2" textLength="10" lengthAdjust="spacingAndGlyphs">20</text>
<line x1="182.61" y1="411.6" x2="182.61" y2="414.8" stroke="#1c1c1c" stroke-width="1.25"/>
<text x="182.61" y="426.3" font-size="9.8" fill="#231f20" text-anchor="middle" stroke="#231f20" stroke-width="0.2" textLength="10" lengthAdjust="spacingAndGlyphs">30</text>
<text x="118.1" y="440.9" font-size="10.6" fill="#231f20" text-anchor="middle" stroke="#231f20" stroke-width="0.2" textLength="17.9" lengthAdjust="spacingAndGlyphs">Days</text>
<text transform="translate(21.4,397.29999999999995) rotate(-90)" x="0" y="0" font-size="10.6" fill="#231f20" text-anchor="start" stroke="#231f20" stroke-width="0.2" textLength="32.499999999999986" lengthAdjust="spacingAndGlyphs">Platelets</text>
<text transform="translate(21.4,363.7) rotate(-90)" x="0" y="0" font-size="10.6" fill="#231f20" text-anchor="start" stroke="#231f20" stroke-width="0.2" textLength="30.600000000000012" lengthAdjust="spacingAndGlyphs">(10<tspan font-size="5.5" dy="-4">−9</tspan><tspan dy="4">/L)</tspan></text>
<line x1="53.937" y1="360.5" x2="53.937" y2="383" stroke="#a80c35" stroke-width="1.1" stroke-opacity="0.85"/>
<line x1="51.937" y1="360.5" x2="55.937" y2="360.5" stroke="#a80c35" stroke-width="1.1" stroke-opacity="0.85"/>
<line x1="51.937" y1="383" x2="55.937" y2="383" stroke="#a80c35" stroke-width="1.1" stroke-opacity="0.85"/>
<line x1="62.811" y1="371.25" x2="62.811" y2="387.5" stroke="#a80c35" stroke-width="1.1" stroke-opacity="0.85"/>
<line x1="60.811" y1="371.25" x2="64.811" y2="371.25" stroke="#a80c35" stroke-width="1.1" stroke-opacity="0.85"/>
<line x1="60.811" y1="387.5" x2="64.811" y2="387.5" stroke="#a80c35" stroke-width="1.1" stroke-opacity="0.85"/>
<line x1="80.559" y1="383" x2="80.559" y2="391.25" stroke="#a80c35" stroke-width="1.1" stroke-opacity="0.85"/>
<line x1="78.559" y1="383" x2="82.559" y2="383" stroke="#a80c35" stroke-width="1.1" stroke-opacity="0.85"/>
<line x1="78.559" y1="391.25" x2="82.559" y2="391.25" stroke="#a80c35" stroke-width="1.1" stroke-opacity="0.85"/>
<line x1="93.87" y1="375.5" x2="93.87" y2="383.75" stroke="#a80c35" stroke-width="1.1" stroke-opacity="0.85"/>
<line x1="91.87" y1="375.5" x2="95.87" y2="375.5" stroke="#a80c35" stroke-width="1.1" stroke-opacity="0.85"/>
<line x1="91.87" y1="383.75" x2="95.87" y2="383.75" stroke="#a80c35" stroke-width="1.1" stroke-opacity="0.85"/>
<line x1="111.618" y1="349.5" x2="111.618" y2="380" stroke="#a80c35" stroke-width="1.1" stroke-opacity="0.85"/>
<line x1="109.618" y1="349.5" x2="113.618" y2="349.5" stroke="#a80c35" stroke-width="1.1" stroke-opacity="0.85"/>
<line x1="109.618" y1="380" x2="113.618" y2="380" stroke="#a80c35" stroke-width="1.1" stroke-opacity="0.85"/>
<line x1="142.67700000000002" y1="344.5" x2="142.67700000000002" y2="374.5" stroke="#a80c35" stroke-width="1.1" stroke-opacity="0.85"/>
<line x1="140.67700000000002" y1="344.5" x2="144.67700000000002" y2="344.5" stroke="#a80c35" stroke-width="1.1" stroke-opacity="0.85"/>
<line x1="140.67700000000002" y1="374.5" x2="144.67700000000002" y2="374.5" stroke="#a80c35" stroke-width="1.1" stroke-opacity="0.85"/>
<line x1="173.736" y1="346" x2="173.736" y2="373" stroke="#a80c35" stroke-width="1.1" stroke-opacity="0.85"/>
<line x1="171.736" y1="346" x2="175.736" y2="346" stroke="#a80c35" stroke-width="1.1" stroke-opacity="0.85"/>
<line x1="171.736" y1="373" x2="175.736" y2="373" stroke="#a80c35" stroke-width="1.1" stroke-opacity="0.85"/>
<path d="M53.94,372 L62.81,379.25 L80.56,387.5 L93.87,379.75 L111.62,365 L142.68,359.5 L173.74,358.75" fill="none" stroke="#a80c35" stroke-width="1.85" stroke-linejoin="round"/>
<rect x="52.29" y="370.35" width="3.3" height="3.3" fill="#a80c35"/>
<rect x="61.16" y="377.60" width="3.3" height="3.3" fill="#a80c35"/>
<rect x="78.91" y="385.85" width="3.3" height="3.3" fill="#a80c35"/>
<rect x="92.22" y="378.10" width="3.3" height="3.3" fill="#a80c35"/>
<rect x="109.97" y="363.35" width="3.3" height="3.3" fill="#a80c35"/>
<rect x="141.03" y="357.85" width="3.3" height="3.3" fill="#a80c35"/>
<rect x="172.09" y="357.10" width="3.3" height="3.3" fill="#a80c35"/>
<line x1="53.937" y1="347.5" x2="53.937" y2="365" stroke="#1d3c78" stroke-width="1.1" stroke-opacity="0.85"/>
<line x1="51.937" y1="347.5" x2="55.937" y2="347.5" stroke="#1d3c78" stroke-width="1.1" stroke-opacity="0.85"/>
<line x1="51.937" y1="365" x2="55.937" y2="365" stroke="#1d3c78" stroke-width="1.1" stroke-opacity="0.85"/>
<line x1="62.811" y1="355.5" x2="62.811" y2="371.25" stroke="#1d3c78" stroke-width="1.1" stroke-opacity="0.85"/>
<line x1="60.811" y1="355.5" x2="64.811" y2="355.5" stroke="#1d3c78" stroke-width="1.1" stroke-opacity="0.85"/>
<line x1="60.811" y1="371.25" x2="64.811" y2="371.25" stroke="#1d3c78" stroke-width="1.1" stroke-opacity="0.85"/>
<line x1="80.559" y1="360.5" x2="80.559" y2="377" stroke="#1d3c78" stroke-width="1.1" stroke-opacity="0.85"/>
<line x1="78.559" y1="360.5" x2="82.559" y2="360.5" stroke="#1d3c78" stroke-width="1.1" stroke-opacity="0.85"/>
<line x1="78.559" y1="377" x2="82.559" y2="377" stroke="#1d3c78" stroke-width="1.1" stroke-opacity="0.85"/>
<line x1="93.87" y1="349.25" x2="93.87" y2="368.25" stroke="#1d3c78" stroke-width="1.1" stroke-opacity="0.85"/>
<line x1="91.87" y1="349.25" x2="95.87" y2="349.25" stroke="#1d3c78" stroke-width="1.1" stroke-opacity="0.85"/>
<line x1="91.87" y1="368.25" x2="95.87" y2="368.25" stroke="#1d3c78" stroke-width="1.1" stroke-opacity="0.85"/>
<line x1="111.618" y1="328.25" x2="111.618" y2="351" stroke="#1d3c78" stroke-width="1.1" stroke-opacity="0.85"/>
<line x1="109.618" y1="328.25" x2="113.618" y2="328.25" stroke="#1d3c78" stroke-width="1.1" stroke-opacity="0.85"/>
<line x1="109.618" y1="351" x2="113.618" y2="351" stroke="#1d3c78" stroke-width="1.1" stroke-opacity="0.85"/>
<line x1="142.67700000000002" y1="332" x2="142.67700000000002" y2="355" stroke="#1d3c78" stroke-width="1.1" stroke-opacity="0.85"/>
<line x1="140.67700000000002" y1="332" x2="144.67700000000002" y2="332" stroke="#1d3c78" stroke-width="1.1" stroke-opacity="0.85"/>
<line x1="140.67700000000002" y1="355" x2="144.67700000000002" y2="355" stroke="#1d3c78" stroke-width="1.1" stroke-opacity="0.85"/>
<line x1="173.736" y1="334.5" x2="173.736" y2="354.25" stroke="#1d3c78" stroke-width="1.1" stroke-opacity="0.85"/>
<line x1="171.736" y1="334.5" x2="175.736" y2="334.5" stroke="#1d3c78" stroke-width="1.1" stroke-opacity="0.85"/>
<line x1="171.736" y1="354.25" x2="175.736" y2="354.25" stroke="#1d3c78" stroke-width="1.1" stroke-opacity="0.85"/>
<path d="M53.94,356.25 L62.81,363 L80.56,368.75 L93.87,358.75 L111.62,340.6 L142.68,343.75 L173.74,344.25" fill="none" stroke="#1d3c78" stroke-width="1.6" stroke-linejoin="round"/>
<circle cx="53.937" cy="356.25" r="1.6" fill="#1d3c78"/>
<circle cx="62.811" cy="363" r="1.6" fill="#1d3c78"/>
<circle cx="80.559" cy="368.75" r="1.6" fill="#1d3c78"/>
<circle cx="93.87" cy="358.75" r="1.6" fill="#1d3c78"/>
<circle cx="111.618" cy="340.6" r="1.6" fill="#1d3c78"/>
<circle cx="142.67700000000002" cy="343.75" r="1.6" fill="#1d3c78"/>
<circle cx="173.736" cy="344.25" r="1.6" fill="#1d3c78"/>
<line x1="241.75" y1="319.5" x2="241.75" y2="412.3" stroke="#1c1c1c" stroke-width="1.45"/>
<line x1="241.05" y1="411.6" x2="378" y2="411.6" stroke="#1c1c1c" stroke-width="1.45"/>
<line x1="238.35" y1="411.2" x2="241.75" y2="411.2" stroke="#1c1c1c" stroke-width="1.25"/>
<text x="234.55" y="414.4" font-size="9.8" fill="#231f20" text-anchor="end" stroke="#231f20" stroke-width="0.2" textLength="5" lengthAdjust="spacingAndGlyphs">7</text>
<line x1="238.35" y1="393.25" x2="241.75" y2="393.25" stroke="#1c1c1c" stroke-width="1.25"/>
<text x="234.55" y="396.45" font-size="9.8" fill="#231f20" text-anchor="end" stroke="#231f20" stroke-width="0.2" textLength="5" lengthAdjust="spacingAndGlyphs">8</text>
<line x1="238.35" y1="375.75" x2="241.75" y2="375.75" stroke="#1c1c1c" stroke-width="1.25"/>
<text x="234.55" y="378.95" font-size="9.8" fill="#231f20" text-anchor="end" stroke="#231f20" stroke-width="0.2" textLength="5" lengthAdjust="spacingAndGlyphs">9</text>
<line x1="238.35" y1="358" x2="241.75" y2="358" stroke="#1c1c1c" stroke-width="1.25"/>
<text x="234.55" y="361.2" font-size="9.8" fill="#231f20" text-anchor="end" stroke="#231f20" stroke-width="0.2" textLength="10" lengthAdjust="spacingAndGlyphs">10</text>
<line x1="238.35" y1="340.5" x2="241.75" y2="340.5" stroke="#1c1c1c" stroke-width="1.25"/>
<text x="234.55" y="343.7" font-size="9.8" fill="#231f20" text-anchor="end" stroke="#231f20" stroke-width="0.2" textLength="10" lengthAdjust="spacingAndGlyphs">11</text>
<line x1="238.35" y1="322.5" x2="241.75" y2="322.5" stroke="#1c1c1c" stroke-width="1.25"/>
<text x="234.55" y="325.7" font-size="9.8" fill="#231f20" text-anchor="end" stroke="#231f20" stroke-width="0.2" textLength="10" lengthAdjust="spacingAndGlyphs">12</text>
<line x1="241.5" y1="411.6" x2="241.5" y2="414.8" stroke="#1c1c1c" stroke-width="1.25"/>
<text x="241.5" y="426.3" font-size="9.8" fill="#231f20" text-anchor="middle" stroke="#231f20" stroke-width="0.2" textLength="5.6" lengthAdjust="spacingAndGlyphs">0</text>
<line x1="285.85" y1="411.6" x2="285.85" y2="414.8" stroke="#1c1c1c" stroke-width="1.25"/>
<text x="285.85" y="426.3" font-size="9.8" fill="#231f20" text-anchor="middle" stroke="#231f20" stroke-width="0.2" textLength="10" lengthAdjust="spacingAndGlyphs">10</text>
<line x1="330.2" y1="411.6" x2="330.2" y2="414.8" stroke="#1c1c1c" stroke-width="1.25"/>
<text x="330.2" y="426.3" font-size="9.8" fill="#231f20" text-anchor="middle" stroke="#231f20" stroke-width="0.2" textLength="10" lengthAdjust="spacingAndGlyphs">20</text>
<line x1="374.54999999999995" y1="411.6" x2="374.54999999999995" y2="414.8" stroke="#1c1c1c" stroke-width="1.25"/>
<text x="374.54999999999995" y="426.3" font-size="9.8" fill="#231f20" text-anchor="middle" stroke="#231f20" stroke-width="0.2" textLength="10" lengthAdjust="spacingAndGlyphs">30</text>
<text x="310.1" y="440.9" font-size="10.6" fill="#231f20" text-anchor="middle" stroke="#231f20" stroke-width="0.2" textLength="17.9" lengthAdjust="spacingAndGlyphs">Days</text>
<text transform="translate(217.4,405.79999999999995) rotate(-90)" x="0" y="0" font-size="10.6" fill="#231f20" text-anchor="start" stroke="#231f20" stroke-width="0.2" textLength="48.59999999999995" lengthAdjust="spacingAndGlyphs">Hemoglobin</text>
<text transform="translate(217.4,355.9) rotate(-90)" x="0" y="0" font-size="10.6" fill="#231f20" text-anchor="start" stroke="#231f20" stroke-width="0.2" textLength="30.8" lengthAdjust="spacingAndGlyphs">(10<tspan font-size="5.5" dy="-4">−9</tspan><tspan dy="4">/L)</tspan></text>
<line x1="245.935" y1="372" x2="245.935" y2="392" stroke="#a80c35" stroke-width="1.1" stroke-opacity="0.85"/>
<line x1="243.935" y1="372" x2="247.935" y2="372" stroke="#a80c35" stroke-width="1.1" stroke-opacity="0.85"/>
<line x1="243.935" y1="392" x2="247.935" y2="392" stroke="#a80c35" stroke-width="1.1" stroke-opacity="0.85"/>
<line x1="254.805" y1="381.25" x2="254.805" y2="395" stroke="#a80c35" stroke-width="1.1" stroke-opacity="0.85"/>
<line x1="252.805" y1="381.25" x2="256.805" y2="381.25" stroke="#a80c35" stroke-width="1.1" stroke-opacity="0.85"/>
<line x1="252.805" y1="395" x2="256.805" y2="395" stroke="#a80c35" stroke-width="1.1" stroke-opacity="0.85"/>
<line x1="272.545" y1="367.5" x2="272.545" y2="385.5" stroke="#a80c35" stroke-width="1.1" stroke-opacity="0.85"/>
<line x1="270.545" y1="367.5" x2="274.545" y2="367.5" stroke="#a80c35" stroke-width="1.1" stroke-opacity="0.85"/>
<line x1="270.545" y1="385.5" x2="274.545" y2="385.5" stroke="#a80c35" stroke-width="1.1" stroke-opacity="0.85"/>
<line x1="285.85" y1="357" x2="285.85" y2="367.5" stroke="#a80c35" stroke-width="1.1" stroke-opacity="0.85"/>
<line x1="283.85" y1="357" x2="287.85" y2="357" stroke="#a80c35" stroke-width="1.1" stroke-opacity="0.85"/>
<line x1="283.85" y1="367.5" x2="287.85" y2="367.5" stroke="#a80c35" stroke-width="1.1" stroke-opacity="0.85"/>
<line x1="303.59" y1="351.25" x2="303.59" y2="362" stroke="#a80c35" stroke-width="1.1" stroke-opacity="0.85"/>
<line x1="301.59" y1="351.25" x2="305.59" y2="351.25" stroke="#a80c35" stroke-width="1.1" stroke-opacity="0.85"/>
<line x1="301.59" y1="362" x2="305.59" y2="362" stroke="#a80c35" stroke-width="1.1" stroke-opacity="0.85"/>
<line x1="334.635" y1="350" x2="334.635" y2="370" stroke="#a80c35" stroke-width="1.1" stroke-opacity="0.85"/>
<line x1="332.635" y1="350" x2="336.635" y2="350" stroke="#a80c35" stroke-width="1.1" stroke-opacity="0.85"/>
<line x1="332.635" y1="370" x2="336.635" y2="370" stroke="#a80c35" stroke-width="1.1" stroke-opacity="0.85"/>
<line x1="365.68" y1="355" x2="365.68" y2="377" stroke="#a80c35" stroke-width="1.1" stroke-opacity="0.85"/>
<line x1="363.68" y1="355" x2="367.68" y2="355" stroke="#a80c35" stroke-width="1.1" stroke-opacity="0.85"/>
<line x1="363.68" y1="377" x2="367.68" y2="377" stroke="#a80c35" stroke-width="1.1" stroke-opacity="0.85"/>
<path d="M245.94,382 L254.81,387 L272.55,377.5 L285.85,362 L303.59,357 L334.63,360 L365.68,365.5" fill="none" stroke="#a80c35" stroke-width="1.85" stroke-linejoin="round"/>
<rect x="244.28" y="380.35" width="3.3" height="3.3" fill="#a80c35"/>
<rect x="253.16" y="385.35" width="3.3" height="3.3" fill="#a80c35"/>
<rect x="270.90" y="375.85" width="3.3" height="3.3" fill="#a80c35"/>
<rect x="284.20" y="360.35" width="3.3" height="3.3" fill="#a80c35"/>
<rect x="301.94" y="355.35" width="3.3" height="3.3" fill="#a80c35"/>
<rect x="332.99" y="358.35" width="3.3" height="3.3" fill="#a80c35"/>
<rect x="364.03" y="363.85" width="3.3" height="3.3" fill="#a80c35"/>
<line x1="245.935" y1="357" x2="245.935" y2="367" stroke="#1d3c78" stroke-width="1.1" stroke-opacity="0.85"/>
<line x1="243.935" y1="357" x2="247.935" y2="357" stroke="#1d3c78" stroke-width="1.1" stroke-opacity="0.85"/>
<line x1="243.935" y1="367" x2="247.935" y2="367" stroke="#1d3c78" stroke-width="1.1" stroke-opacity="0.85"/>
<line x1="254.805" y1="370.5" x2="254.805" y2="378.75" stroke="#1d3c78" stroke-width="1.1" stroke-opacity="0.85"/>
<line x1="252.805" y1="370.5" x2="256.805" y2="370.5" stroke="#1d3c78" stroke-width="1.1" stroke-opacity="0.85"/>
<line x1="252.805" y1="378.75" x2="256.805" y2="378.75" stroke="#1d3c78" stroke-width="1.1" stroke-opacity="0.85"/>
<line x1="272.545" y1="374.5" x2="272.545" y2="381.25" stroke="#1d3c78" stroke-width="1.1" stroke-opacity="0.85"/>
<line x1="270.545" y1="374.5" x2="274.545" y2="374.5" stroke="#1d3c78" stroke-width="1.1" stroke-opacity="0.85"/>
<line x1="270.545" y1="381.25" x2="274.545" y2="381.25" stroke="#1d3c78" stroke-width="1.1" stroke-opacity="0.85"/>
<line x1="285.85" y1="359.5" x2="285.85" y2="366.25" stroke="#1d3c78" stroke-width="1.1" stroke-opacity="0.85"/>
<line x1="283.85" y1="359.5" x2="287.85" y2="359.5" stroke="#1d3c78" stroke-width="1.1" stroke-opacity="0.85"/>
<line x1="283.85" y1="366.25" x2="287.85" y2="366.25" stroke="#1d3c78" stroke-width="1.1" stroke-opacity="0.85"/>
<line x1="303.59" y1="339.5" x2="303.59" y2="349.5" stroke="#1d3c78" stroke-width="1.1" stroke-opacity="0.85"/>
<line x1="301.59" y1="339.5" x2="305.59" y2="339.5" stroke="#1d3c78" stroke-width="1.1" stroke-opacity="0.85"/>
<line x1="301.59" y1="349.5" x2="305.59" y2="349.5" stroke="#1d3c78" stroke-width="1.1" stroke-opacity="0.85"/>
<line x1="334.635" y1="346.25" x2="334.635" y2="357" stroke="#1d3c78" stroke-width="1.1" stroke-opacity="0.85"/>
<line x1="332.635" y1="346.25" x2="336.635" y2="346.25" stroke="#1d3c78" stroke-width="1.1" stroke-opacity="0.85"/>
<line x1="332.635" y1="357" x2="336.635" y2="357" stroke="#1d3c78" stroke-width="1.1" stroke-opacity="0.85"/>
<line x1="365.68" y1="349.5" x2="365.68" y2="360.5" stroke="#1d3c78" stroke-width="1.1" stroke-opacity="0.85"/>
<line x1="363.68" y1="349.5" x2="367.68" y2="349.5" stroke="#1d3c78" stroke-width="1.1" stroke-opacity="0.85"/>
<line x1="363.68" y1="360.5" x2="367.68" y2="360.5" stroke="#1d3c78" stroke-width="1.1" stroke-opacity="0.85"/>
<path d="M245.94,362 L254.81,374.5 L272.55,377 L285.85,362.5 L303.59,344.6 L334.63,351.25 L365.68,354.25" fill="none" stroke="#1d3c78" stroke-width="1.6" stroke-linejoin="round"/>
<circle cx="245.935" cy="362" r="1.6" fill="#1d3c78"/>
<circle cx="254.805" cy="374.5" r="1.6" fill="#1d3c78"/>
<circle cx="272.545" cy="377" r="1.6" fill="#1d3c78"/>
<circle cx="285.85" cy="362.5" r="1.6" fill="#1d3c78"/>
<circle cx="303.59" cy="344.6" r="1.6" fill="#1d3c78"/>
<circle cx="334.635" cy="351.25" r="1.6" fill="#1d3c78"/>
<circle cx="365.68" cy="354.25" r="1.6" fill="#1d3c78"/>
</svg></body></html>
